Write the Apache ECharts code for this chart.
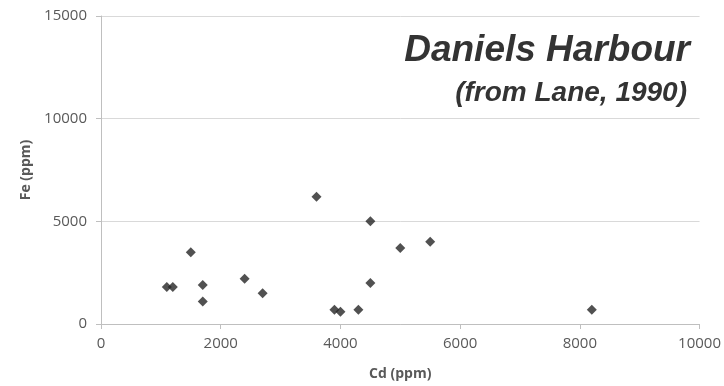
<!DOCTYPE html>
<html>
<head>
<meta charset="utf-8">
<script src="https://cdn.jsdelivr.net/npm/echarts@6/dist/echarts.min.js"></script>
<style>
  html, body { margin: 0; padding: 0; background: #fff; }
  #chart { width: 724px; height: 386px; }
</style>
</head>
<body>
<div id="chart"></div>
<script>
// Cd vs Fe samples
const cdValues = [1100, 1200, 1500, 1700, 1700, 2400, 2700, 3600, 3900, 4000, 4300, 4500, 4500, 5000, 5500, 8200]
const feValues = [1800, 1800, 3500, 1900, 1100, 2200, 1500, 6200, 700, 600, 700, 5000, 2000, 3700, 4000, 700]

const titleText = 'Daniels Harbour'
const subText = '(from Lane, 1990)'

const points = cdValues.map((cd, i) => [cd, feValues[i]])

const chart = echarts.init(document.getElementById('chart'))

const labelFont = { fontFamily: 'Open Sans', fontSize: 15, color: '#595959' }
const axisGray = '#bfbfbf'
// plain numbers, no thousands separator
const plain = v => String(v)

chart.setOption({
  animation: false,
  title: [
    {
      text: titleText,
      right: 29,
      top: 27,
      textStyle: {
        fontFamily: 'Liberation Sans',
        fontSize: 37,
        fontWeight: 'bold',
        fontStyle: 'italic',
        color: '#333333'
      }
    },
    {
      text: subText,
      right: 32,
      top: 74,
      textStyle: {
        fontFamily: 'Liberation Sans',
        fontSize: 28,
        fontWeight: 'bold',
        fontStyle: 'italic',
        color: '#333333'
      }
    }
  ],
  grid: {
    left: 101,
    right: 24,
    top: 16,
    bottom: 61
  },
  xAxis: {
    type: 'value',
    min: 0,
    max: 10000,
    interval: 2000,
    name: 'Cd (ppm)',
    nameLocation: 'middle',
    nameGap: 43,
    nameTextStyle: { fontFamily: 'Open Sans', fontSize: 14, fontWeight: 'bold', color: '#595959' },
    axisLine: { show: true, lineStyle: { color: axisGray, width: 1 } },
    axisTick: { show: true, length: 5, lineStyle: { color: axisGray } },
    axisLabel: Object.assign({ margin: 12, formatter: plain }, labelFont),
    splitLine: { show: false }
  },
  yAxis: {
    type: 'value',
    min: 0,
    max: 15000,
    interval: 5000,
    name: 'Fe (ppm)',
    nameLocation: 'middle',
    nameGap: 60,
    nameTextStyle: { fontFamily: 'Open Sans', fontSize: 14, fontWeight: 'bold', color: '#595959' },
    axisLine: { show: true, lineStyle: { color: axisGray, width: 1 } },
    axisTick: { show: true, length: 5, lineStyle: { color: axisGray } },
    axisLabel: Object.assign({ margin: 14, formatter: plain }, labelFont),
    splitLine: { show: true, lineStyle: { color: '#d9d9d9', width: 1 } }
  },
  series: [
    {
      type: 'scatter',
      data: points,
      symbol: 'diamond',
      symbolSize: 10,
      itemStyle: { color: '#262626' }
    }
  ]
})
</script>
</body>
</html>
